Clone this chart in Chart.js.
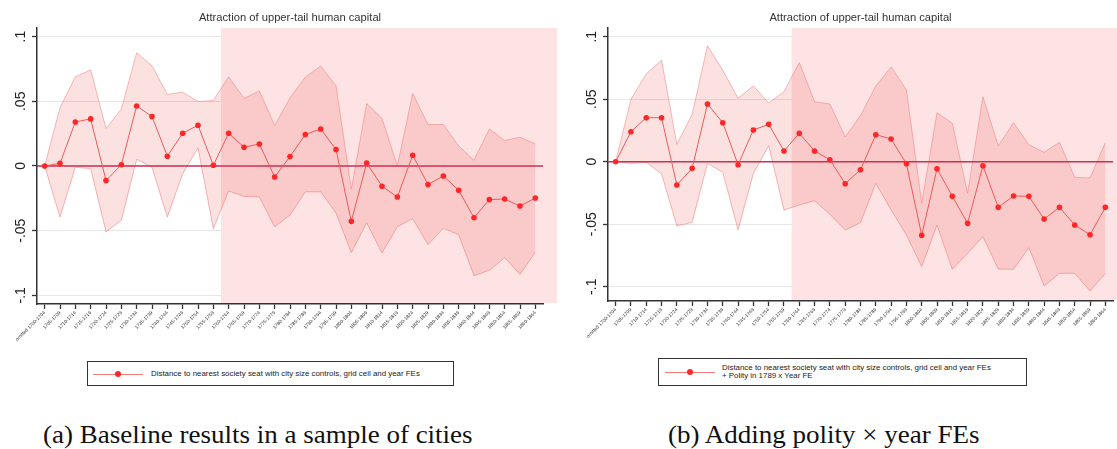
<!DOCTYPE html>
<html>
<head>
<meta charset="utf-8">
<script src="https://cdn.jsdelivr.net/npm/chart.js@4.4.1/dist/chart.umd.min.js"></script>
<style>
  body { margin: 0; background: #fff; width: 1117px; height: 449px; position: relative; overflow: hidden; font-family: "Liberation Sans", Arial, sans-serif; }
  canvas { position: absolute; top: 0; }
  #chartA { left: 0; }
  #chartB { left: 560px; }
  .legend { position: absolute; border: 1px solid #333; box-sizing: border-box; background: #fff; }
  .legend .key { position: absolute; width: 50px; height: 1px; background: #f27c7c; }
  .legend .dot { position: absolute; width: 6px; height: 6px; border-radius: 50%; background: #ff2828; }
  .legend .txt { position: absolute; font-size: 7.9px; line-height: 8px; color: #222; white-space: nowrap; }
  .caption { position: absolute; font-family: "Liberation Serif", serif; font-size: 25px; color: #111; white-space: nowrap; transform-origin: 0 0; transform: scaleX(1.08); }
</style>
</head>
<body>
<canvas id="chartA" width="560" height="356"></canvas>
<canvas id="chartB" width="557" height="356"></canvas>

<div class="legend" style="left:87px;top:361px;width:367px;height:25px">
  <div class="key" style="left:5px;top:12px"></div>
  <div class="dot" style="left:27px;top:9px"></div>
  <div class="txt" style="left:63px;top:8px">Distance to nearest society seat with city size controls, grid cell and year FEs</div>
</div>
<div class="legend" style="left:658px;top:358px;width:369px;height:28px">
  <div class="key" style="left:6px;top:13px"></div>
  <div class="dot" style="left:28px;top:10px"></div>
  <div class="txt" style="left:63px;top:5px">Distance to nearest society seat with city size controls, grid cell and year FEs<br>+ Polity in 1789 x Year FE</div>
</div>

<div class="caption" style="left:43px;top:421px">(a) Baseline results in a sample of cities</div>
<div class="caption" style="left:668px;top:421px">(b) Adding polity × year FEs</div>

<script>
// ---- data ----
const periods = [
    'omitted 1700-1704', '1705-1709', '1710-1714', '1715-1719', '1720-1724', '1725-1729',
    '1730-1734', '1735-1739', '1740-1744', '1745-1749', '1750-1754', '1755-1759',
    '1760-1764', '1765-1769', '1770-1774', '1775-1779', '1780-1784', '1785-1789',
    '1790-1794', '1795-1799', '1800-1804', '1805-1809', '1810-1814', '1815-1819',
    '1820-1824', '1825-1829', '1830-1834', '1835-1839', '1840-1844', '1845-1849',
    '1850-1854', '1855-1859', '1860-1864'
];

// (a) baseline
const estA = [0, 0.002, 0.034, 0.0364, -0.0113, 0.001, 0.0464, 0.0382, 0.0075, 0.0253, 0.0315,
    0.0005, 0.0253, 0.0145, 0.017, -0.0085, 0.0073, 0.0243, 0.0286, 0.0127, -0.0428, 0.0023,
    -0.0157, -0.024, 0.0083, -0.0144, -0.0077, -0.0188, -0.040, -0.026, -0.0255, -0.031, -0.0248];
const highA = [0, 0.045, 0.0689, 0.0743, 0.029, 0.0439, 0.0875, 0.0774, 0.0553, 0.057, 0.0498,
    0.0506, 0.0689, 0.0522, 0.058, 0.0313, 0.0526, 0.0687, 0.0772, 0.0619, -0.018, 0.0483,
    0.0367, 0.0, 0.056, 0.032, 0.032, 0.0155, 0.0044, 0.0286, 0.0197, 0.0222, 0.017];
const lowA = [0, -0.0395, -0.001, -0.002, -0.051, -0.042, 0.0052, -0.001, -0.0395, -0.006, 0.014,
    -0.0485, -0.0193, -0.0235, -0.024, -0.047, -0.038, -0.020, -0.020, -0.0364, -0.067, -0.044,
    -0.0673, -0.047, -0.0407, -0.0608, -0.0482, -0.0531, -0.0848, -0.0807, -0.0709, -0.0838, -0.0666];

// (b) with polity x year FEs
const estB = [0, 0.024, 0.0352, 0.0352, -0.0186, -0.0053, 0.0462, 0.0312, -0.0024, 0.0254, 0.0299,
    0.0086, 0.0227, 0.0086, 0.0016, -0.0176, -0.0064, 0.0216, 0.0182, -0.0016, -0.0589, -0.0056,
    -0.0277, -0.0493, -0.0032, -0.0365, -0.0274, -0.0277, -0.0458, -0.0365, -0.0506, -0.0584, -0.0365];
const highB = [0, 0.0499, 0.0702, 0.0811, 0.0139, 0.0379, 0.0928, 0.0731, 0.0507, 0.0606, 0.047,
    0.056, 0.0792, 0.048, 0.0462, 0.0198, 0.0368, 0.0606, 0.0758, 0.0574, -0.0333, 0.0392,
    0.0307, -0.0253, 0.052, 0.0126, 0.0312, 0.0136, 0.0075, 0.0155, -0.0125, -0.013, 0.0152];
const lowB = [0, -0.0013, -0.0005, -0.0098, -0.0514, -0.0485, -0.0013, -0.0085, -0.0546, -0.0093, 0.0128,
    -0.0386, -0.0346, -0.0312, -0.042, -0.0546, -0.0488, -0.0173, -0.0386, -0.0586, -0.084, -0.0506,
    -0.0861, -0.0733, -0.060, -0.0858, -0.0861, -0.0688, -0.0994, -0.0893, -0.0893, -0.1034, -0.0893];

const yTicks = [-0.1, -0.05, 0, 0.05, 0.1];
const yTickLabels = ['-.1', '-.05', '0', '.05', '.1'];
const shadeStart = 11.5;   // shaded period starts between 1755-1759 and 1760-1764
const titleText = 'Attraction of upper-tail human capital';

// ---- plugins ----

// pink background for the later period, drawn under the bands
const shadePlugin = {
    id: 'shade',
    beforeDatasetsDraw(chart) {
        const { ctx, chartArea, scales } = chart;
        const x0 = scales.x.getPixelForValue(shadeStart);
        const x1 = Math.min(chartArea.right + 14, chart.width);
        ctx.save();
        ctx.fillStyle = '#fde3e3';
        ctx.fillRect(x0, chartArea.top, x1 - x0, chartArea.bottom - chartArea.top - 1);
        ctx.restore();
    }
};

// red zero reference line, under the estimate line
const zeroLinePlugin = {
    id: 'zeroLine',
    beforeDatasetDraw(chart, args) {
        if (args.index !== 3) return;
        const { ctx, chartArea, scales } = chart;
        const y = scales.y.getPixelForValue(0);
        ctx.save();
        ctx.strokeStyle = '#cc2f52';
        ctx.lineWidth = 1.5;
        ctx.beginPath();
        ctx.moveTo(chartArea.left, y);
        ctx.lineTo(chartArea.right, y);
        ctx.stroke();
        ctx.restore();
    }
};

// vertical y tick labels (Stata style)
const yLabelPlugin = {
    id: 'yLabels',
    afterDraw(chart) {
        const { ctx, chartArea, scales } = chart;
        ctx.save();
        ctx.fillStyle = '#222';
        ctx.font = '14px "Liberation Sans", Arial, sans-serif';
        ctx.textAlign = 'center';
        ctx.textBaseline = 'middle';
        yTicks.forEach((v, i) => {
            const y = scales.y.getPixelForValue(v);
            ctx.save();
            ctx.translate(chartArea.left - 16, y);
            ctx.rotate(-Math.PI / 2);
            ctx.fillText(yTickLabels[i], 0, 0);
            ctx.restore();
        });
        ctx.restore();
    }
};

// ---- chart builder ----
function makePanel(canvasId, est, low, high, cfg) {
    const ctx = document.getElementById(canvasId).getContext('2d');
    return new Chart(ctx, {
        type: 'line',
        data: {
            labels: periods,
            datasets: [
                {
                    label: 'lower',
                    data: low,
                    borderColor: 'rgba(240,130,130,0.55)',
                    borderWidth: 1,
                    pointRadius: 0,
                    fill: false,
                    order: 3
                },
                {
                    label: 'upper',
                    data: high,
                    borderColor: 'rgba(240,130,130,0.55)',
                    backgroundColor: 'rgba(235,40,40,0.14)',
                    borderWidth: 1,
                    pointRadius: 0,
                    fill: '-1',
                    order: 2
                },
                {
                    label: 'spacer',
                    data: [],
                    order: 1
                },
                {
                    label: 'estimate',
                    data: est,
                    borderColor: '#ec5b5b',
                    borderWidth: 1,
                    pointRadius: 2.8,
                    pointBackgroundColor: '#ff2626',
                    pointBorderColor: '#ff2626',
                    pointBorderWidth: 0,
                    fill: false,
                    order: 0
                }
            ]
        },
        options: {
            responsive: false,
            animation: false,
            devicePixelRatio: 1,
            layout: { padding: { left: 0, right: cfg.padRight, top: 0, bottom: 0 } },
            elements: { line: { tension: 0 } },
            plugins: {
                legend: { display: false },
                tooltip: { enabled: false },
                title: {
                    display: true,
                    text: titleText,
                    fullSize: false,
                    color: '#333',
                    font: { family: '"Liberation Sans", Arial, sans-serif', size: 11.2, weight: 'normal' },
                    padding: { top: 11.5, bottom: 3 }
                }
            },
            scales: {
                x: {
                    type: 'category',
                    offset: true,
                    grid: { drawOnChartArea: false, drawTicks: true, tickLength: 5, tickColor: '#333', tickWidth: 1.3 },
                    border: { display: true, color: '#333', width: 1.5 },
                    ticks: {
                        autoSkip: false,
                        minRotation: 45,
                        maxRotation: 45,
                        padding: 1,
                        color: '#333',
                        font: { family: '"Liberation Sans", Arial, sans-serif', size: 4.8 }
                    },
                    afterFit(scale) { scale.height = cfg.xHeight; }
                },
                y: {
                    min: cfg.yMin,
                    max: cfg.yMax,
                    afterBuildTicks(scale) { scale.ticks = yTicks.map(v => ({ value: v })); },
                    grid: { color: '#e6e6e6', lineWidth: 1, drawTicks: true, tickLength: 5, tickColor: '#333', tickWidth: 1.3 },
                    border: { display: true, color: '#333', width: 1.5 },
                    ticks: { display: false },
                    afterFit(scale) { scale.width = cfg.yWidth; }
                }
            }
        },
        plugins: [shadePlugin, zeroLinePlugin, yLabelPlugin]
    });
}

makePanel('chartA', estA, lowA, highA, { padRight: 17, xHeight: 52, yWidth: 37, yMin: -0.1067, yMax: 0.1067 });
makePanel('chartB', estB, lowB, highB, { padRight: 3, xHeight: 55, yWidth: 48, yMin: -0.1114, yMax: 0.107 });
</script>
</body>
</html>
